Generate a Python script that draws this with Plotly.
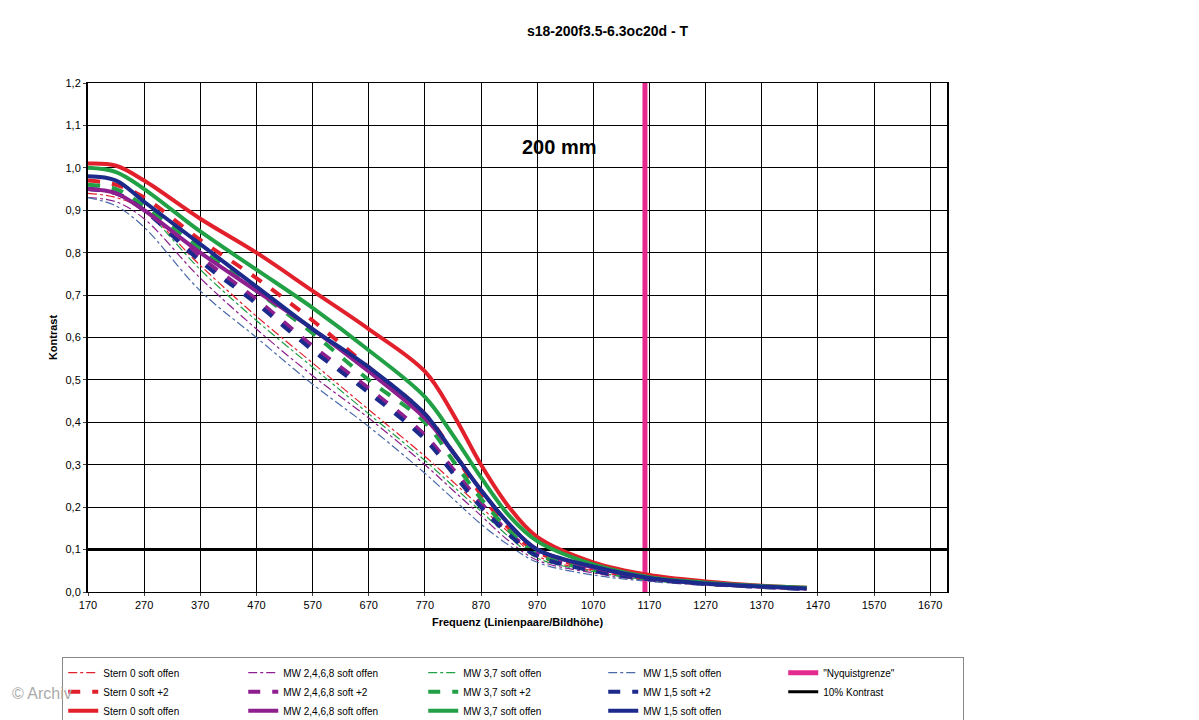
import plotly.graph_objects as go

x = [170, 220, 270, 370, 470, 570, 670, 770, 820, 870, 920, 970, 1070, 1170, 1270, 1370, 1450]

stern_dd  = [0.94, 0.93, 0.90, 0.77, 0.65, 0.54, 0.43, 0.32, 0.26, 0.20, 0.14, 0.085, 0.05, 0.03, 0.02, 0.012, 0.008]
mw2468_dd = [0.93, 0.92, 0.88, 0.74, 0.62, 0.51, 0.41, 0.30, 0.24, 0.18, 0.12, 0.075, 0.045, 0.027, 0.018, 0.011, 0.007]
mw37_dd   = [0.95, 0.94, 0.90, 0.76, 0.64, 0.53, 0.42, 0.31, 0.25, 0.19, 0.13, 0.08, 0.048, 0.028, 0.019, 0.012, 0.008]
mw15_dd   = [0.93, 0.91, 0.86, 0.71, 0.60, 0.49, 0.39, 0.28, 0.22, 0.16, 0.11, 0.07, 0.04, 0.025, 0.016, 0.01, 0.006]

stern_d   = [0.97, 0.96, 0.93, 0.83, 0.74, 0.64, 0.53, 0.42, 0.33, 0.23, 0.15, 0.095, 0.055, 0.032, 0.02, 0.013, 0.008]
mw2468_d  = [0.95, 0.94, 0.90, 0.79, 0.69, 0.58, 0.48, 0.37, 0.29, 0.21, 0.14, 0.09, 0.05, 0.03, 0.02, 0.012, 0.008]
mw37_d    = [0.96, 0.95, 0.91, 0.81, 0.71, 0.61, 0.50, 0.40, 0.31, 0.22, 0.145, 0.09, 0.052, 0.031, 0.02, 0.012, 0.008]
mw15_d    = [0.95, 0.94, 0.90, 0.78, 0.68, 0.57, 0.47, 0.36, 0.28, 0.20, 0.135, 0.085, 0.05, 0.03, 0.019, 0.012, 0.007]

stern_s   = [1.01, 1.005, 0.97, 0.88, 0.80, 0.71, 0.62, 0.52, 0.42, 0.30, 0.20, 0.13, 0.07, 0.04, 0.025, 0.015, 0.01]
mw2468_s  = [0.95, 0.94, 0.90, 0.80, 0.71, 0.62, 0.52, 0.41, 0.33, 0.24, 0.16, 0.10, 0.058, 0.033, 0.02, 0.013, 0.008]
mw37_s    = [1.00, 0.99, 0.95, 0.85, 0.76, 0.67, 0.57, 0.46, 0.37, 0.27, 0.18, 0.12, 0.065, 0.035, 0.022, 0.014, 0.01]
mw15_s    = [0.98, 0.97, 0.92, 0.82, 0.72, 0.62, 0.53, 0.42, 0.33, 0.24, 0.16, 0.10, 0.06, 0.033, 0.02, 0.013, 0.008]

nyquist_x = [1162, 1162]
nyquist_y = [0, 1.2]
kontrast_x = [170, 1700]
kontrast_y = [0.1, 0.1]

RED, PUR, GRN, BLU, MAG = "#e2202c", "#8e1f8e", "#22a046", "#1c2a8c", "#e42a8e"

fig = go.Figure()
def add(name, y, color, dash, width, xs=x):
    fig.add_trace(go.Scatter(x=xs, y=y, mode="lines", name=name,
                             line=dict(color=color, dash=dash, width=width, shape="spline")))

add("Stern 0 soft offen", stern_dd, RED, "dashdot", 1.2)
add("MW 2,4,6,8 soft offen", mw2468_dd, PUR, "dashdot", 1.2)
add("MW 3,7 soft offen", mw37_dd, GRN, "dashdot", 1.2)
add("MW 1,5 soft offen", mw15_dd, "#4a6aa8", "dashdot", 1.2)
add("\"Nyquistgrenze\"", nyquist_y, MAG, "solid", 5, nyquist_x)
add("Stern 0 soft +2", stern_d, RED, "dash", 4)
add("MW 2,4,6,8 soft +2", mw2468_d, PUR, "dash", 4)
add("MW 3,7 soft +2", mw37_d, GRN, "dash", 4)
add("MW 1,5 soft +2", mw15_d, BLU, "dash", 4)
add("10% Kontrast", kontrast_y, "black", "solid", 3, kontrast_x)
add("Stern 0 soft offen", stern_s, RED, "solid", 4)
add("MW 2,4,6,8 soft offen", mw2468_s, PUR, "solid", 4)
add("MW 3,7 soft offen", mw37_s, GRN, "solid", 4)
add("MW 1,5 soft offen", mw15_s, BLU, "solid", 4)

fig.update_layout(
    width=1199, height=720, paper_bgcolor="white", plot_bgcolor="white",
    margin=dict(l=80, r=260, t=75, b=136, autoexpand=False),
    font=dict(family="Liberation Sans, Arial", size=11, color="black"),
    title=dict(text="<b>s18-200f3.5-6.3oc20d - T</b>", x=0.5, xanchor="center",
               y=0.975, font=dict(size=14)),
    xaxis=dict(range=[170, 1700], tickvals=list(range(170, 1700, 100)), showgrid=True,
               gridcolor="black", gridwidth=1, showline=True, linecolor="black", linewidth=1,
               mirror=True, ticks="outside", ticklen=3, zeroline=False,
               title=dict(text="<b>Frequenz (Linienpaare/Bildhöhe)</b>", font=dict(size=11), standoff=8)),
    yaxis=dict(range=[0, 1.2], tickvals=[i/10 for i in range(13)],
               ticktext=[f"{i/10:.1f}".replace(".", ",") for i in range(13)],
               showgrid=True, gridcolor="black", gridwidth=1, showline=True, linecolor="black",
               linewidth=2, mirror=True, ticks="outside", ticklen=3, zeroline=False,
               title=dict(text="<b>Kontrast</b>", font=dict(size=11), standoff=6)),
    legend=dict(orientation="h", x=-0.03, xanchor="left", y=-0.128, yanchor="top",
                entrywidth=135, entrywidthmode="pixels", bordercolor="#888", borderwidth=1,
                font=dict(size=10), tracegroupgap=0, itemwidth=30, traceorder="normal"),
    showlegend=True,
    annotations=[
        dict(x=1010, y=1.05, text="<b>200 mm</b>", showarrow=False, font=dict(size=20)),
        dict(x=0, y=0, xref="paper", yref="paper", xshift=-78, yshift=-112, xanchor="left", yanchor="bottom",
             text="© Archiv", showarrow=False, font=dict(size=16, color="#aaaaaa")),
    ],
)
fig.write_html("out.html")
